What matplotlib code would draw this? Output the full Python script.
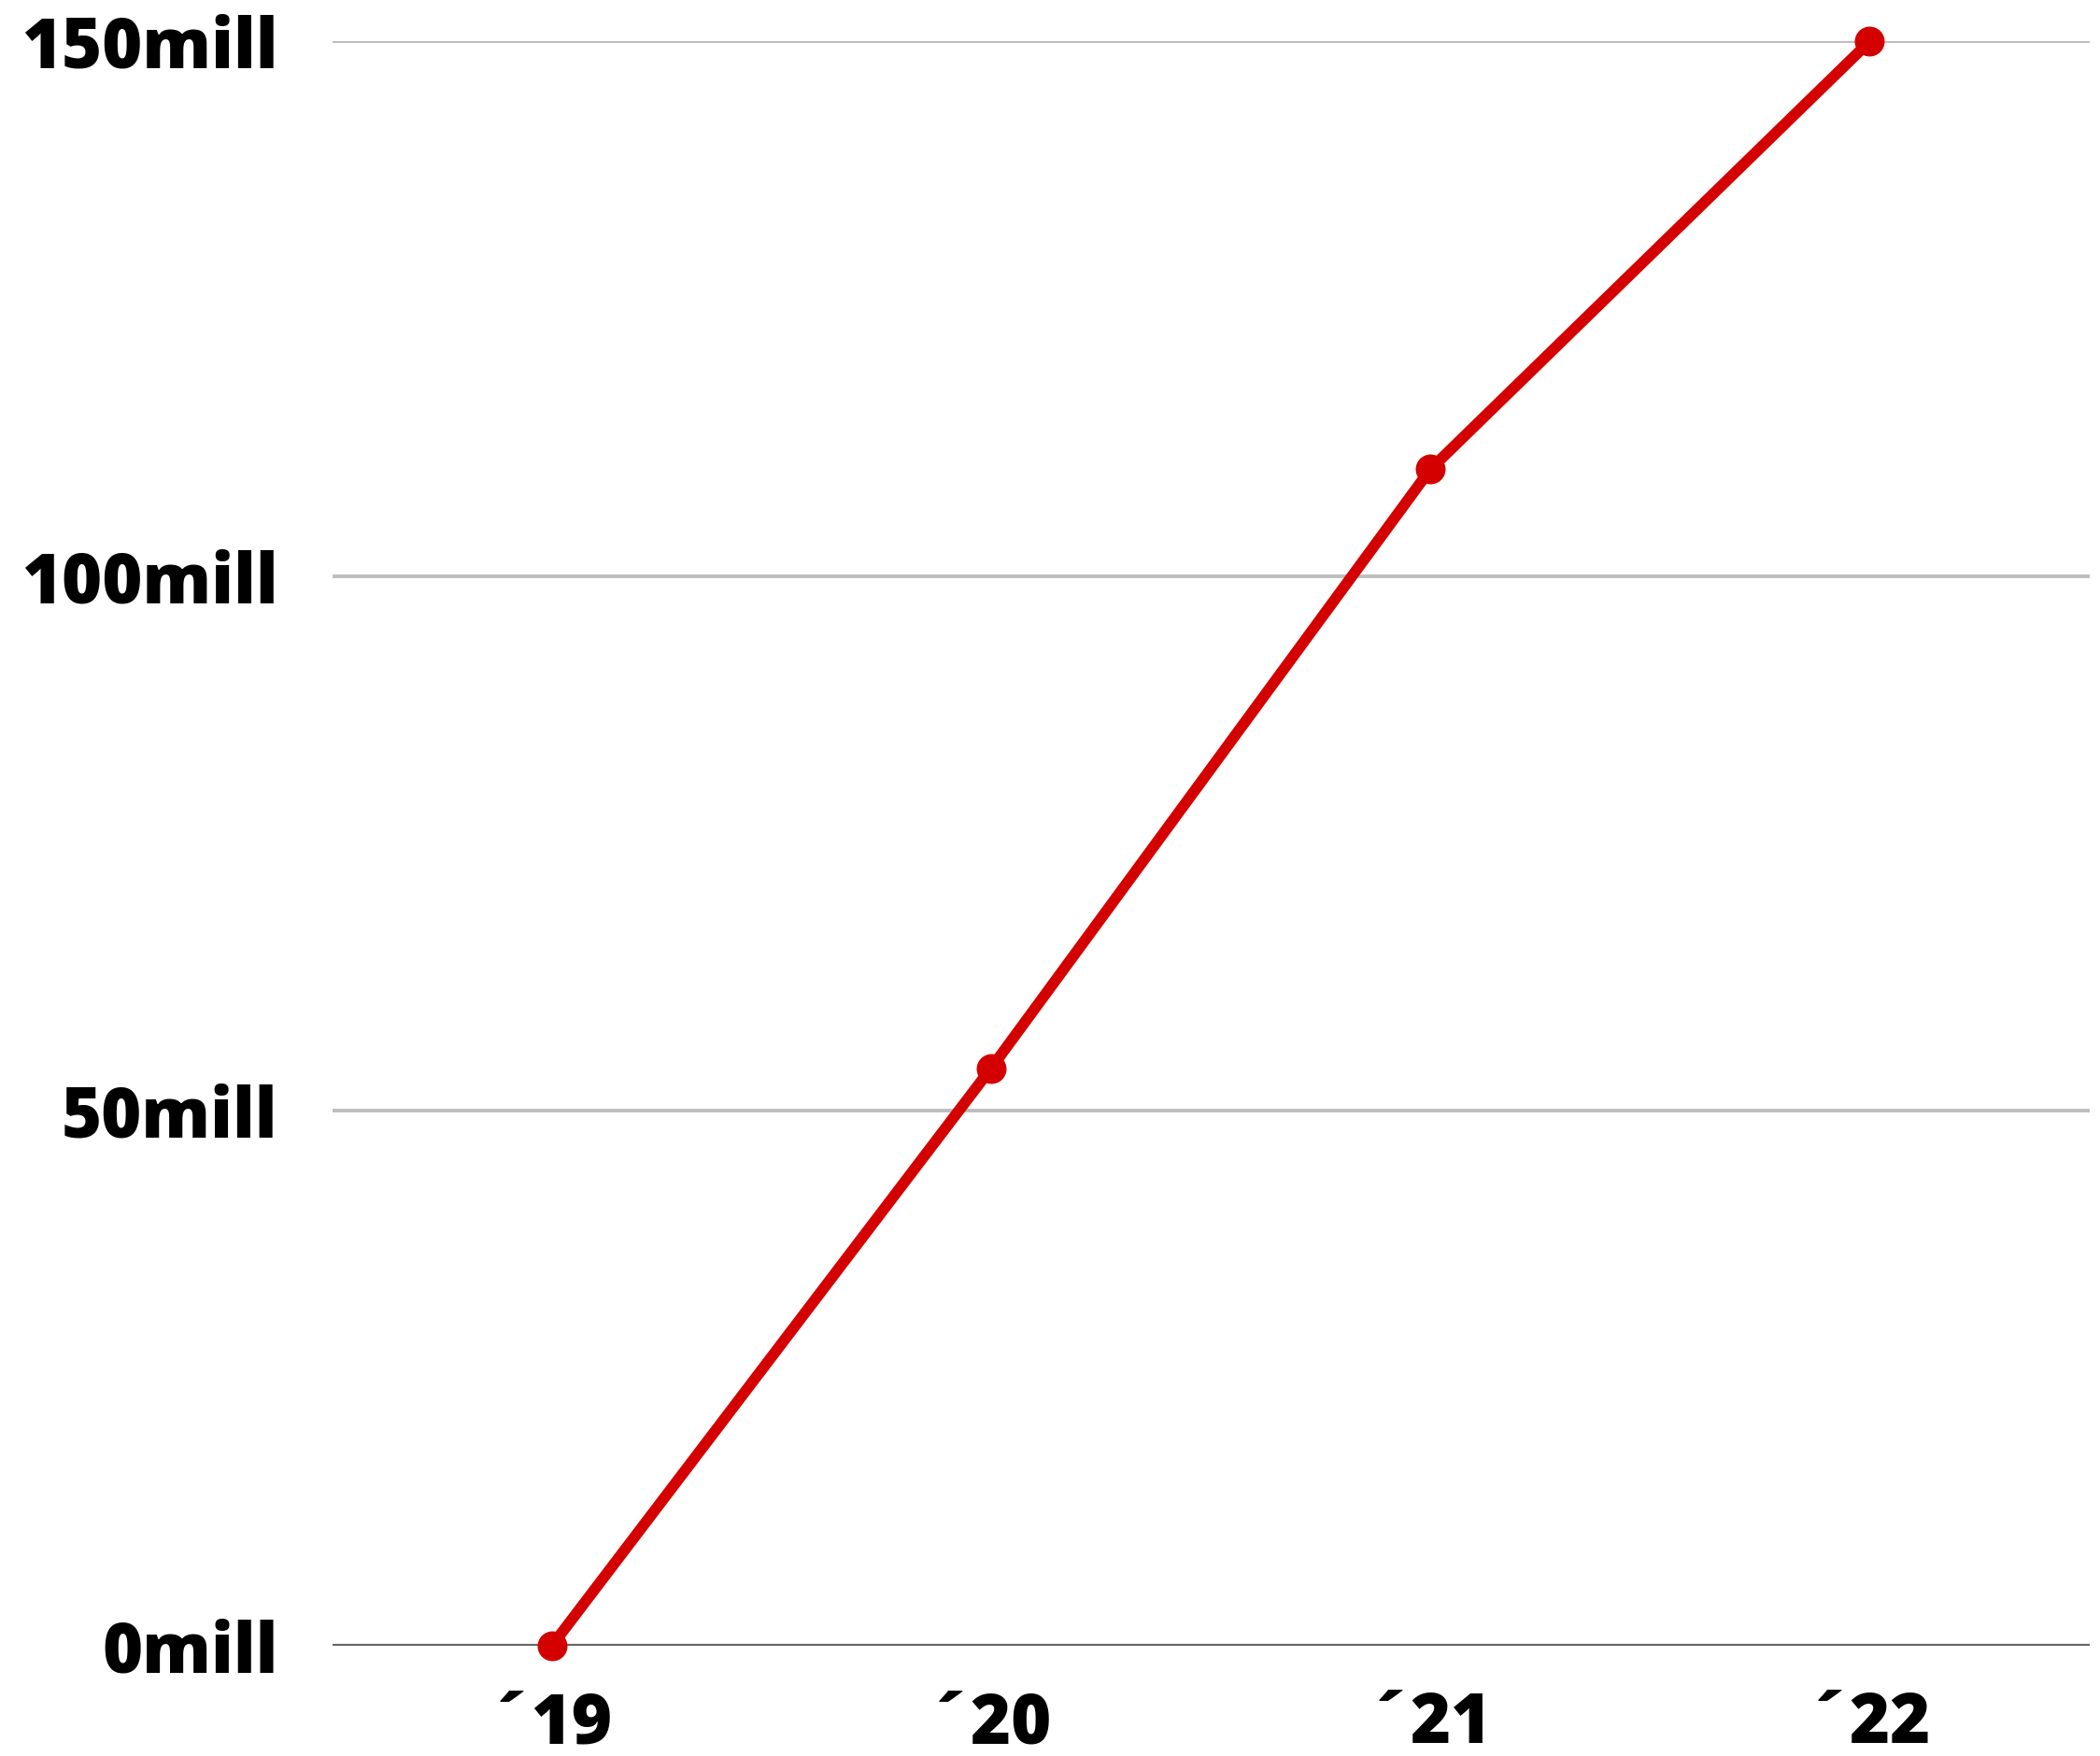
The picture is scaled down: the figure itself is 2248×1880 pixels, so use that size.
"""
Line chart of yearly totals in millions, '19 to '22.
Saves out.png.
"""

import matplotlib.pyplot as plt

# data
years = ["´19", "´20", "´21", "´22"]
values = [0, 54, 110, 150]
y_ticks = [0, 50, 100, 150]
y_labels = ["0mill", "50mill", "100mill", "150mill"]

RED = "#d40000"


def make_chart():
    plt.rcParams["font.family"] = ["Open Sans", "DejaVu Sans"]
    fig = plt.figure(figsize=(22.48, 18.8), dpi=100)
    ax = fig.add_axes([0.1582, 0.0628, 0.8367, 0.9136])

    x = list(range(len(years)))
    ax.plot(x, values, color=RED, linewidth=8.5, marker="o", markersize=22,
            solid_capstyle="round", clip_on=False, zorder=3)

    ax.set_xlim(-0.5, len(years) - 0.5)
    ax.set_ylim(0, 150)

    # grid lines
    for t in y_ticks[1:]:
        ax.axhline(t, color="#bdbdbd", linewidth=2.8, zorder=1)
    ax.axhline(0, color="#666666", linewidth=3, zorder=2)

    ax.set_yticks(y_ticks)
    ax.set_yticklabels(y_labels)
    ax.set_xticks(x)
    ax.set_xticklabels(years)
    ax.tick_params(axis="y", length=0, pad=42, labelsize=53)
    ax.tick_params(axis="x", length=0, pad=34, labelsize=53)
    for lbl in ax.get_xticklabels() + ax.get_yticklabels():
        lbl.set_fontweight(800)

    for s in ax.spines.values():
        s.set_visible(False)

    fig.savefig("out.png", dpi=100, facecolor="white")
    plt.close(fig)


if __name__ == "__main__":
    make_chart()
